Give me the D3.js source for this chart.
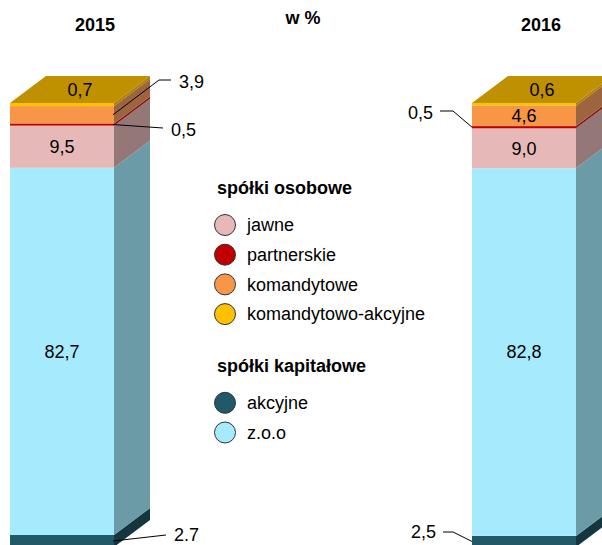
<!DOCTYPE html>
<html lang="pl">
<head>
<meta charset="UTF-8">
<title>Spółki 2015-2016</title>
<script src="https://d3js.org/d3.v7.min.js"></script>
<style>
    body { margin: 0; background: #fff; }
    text { font-family: "Liberation Sans", Arial, sans-serif; fill: #000; }
</style>
</head>
<body>
<script>
    // data, bottom segment first
    years = ["2015", "2016"]
    series = ["akcyjne", "z.o.o", "jawne", "partnerskie", "komandytowe", "komandytowo-akcyjne"]
    values2015 = [2.7, 82.7, 9.5, 0.5, 3.9, 0.7]
    values2016 = [2.5, 82.8, 9.0, 0.5, 4.6, 0.6]
    labels2015 = ["2.7", "82,7", "9,5", "0,5", "3,9", "0,7"]
    labels2016 = ["2,5", "82,8", "9,0", "0,5", "4,6", "0,6"]

    legendGroups = [
        {title: "spółki osobowe", items: ["jawne", "partnerskie", "komandytowe", "komandytowo-akcyjne"]},
        {title: "spółki kapitałowe", items: ["akcyjne", "z.o.o"]}
    ]

    colors = {
        "akcyjne": "#215968",
        "z.o.o": "#a6ebfd",
        "jawne": "#e6b9b8",
        "partnerskie": "#c00000",
        "komandytowe": "#f79646",
        "komandytowo-akcyjne": "#ffc000"
    }
    sideColors = {
        "akcyjne": "#14363f",
        "z.o.o": "#6a9ba6",
        "jawne": "#947878",
        "partnerskie": "#8a1010",
        "komandytowe": "#9c6540",
        "komandytowo-akcyjne": "#b08000"
    }
    topColor = "#bf9000"

    w = 602
    h = 545
    depth = {dx: 36, dy: -27}

    svg = d3.select("body").append("svg")
        .attr("width", w)
        .attr("height", h)

    x = d3.scaleBand()
        .domain(years)
        .range([10, 576])
        .paddingInner(358 / 462)

    y = d3.scaleLinear()
        .domain([0, 100])
        .range([547, 103])

    function stack(values) {
        let acc = 0
        return values.map((v, i) => {
            const s = {key: series[i], v: v, y0: acc, y1: acc + v}
            acc += v
            return s
        })
    }

    // where each label goes: in = on front, top = on top face, right/left = callout
    placement = {
        "2015": ["right", "in", "in", "right", "right", "top"],
        "2016": ["left", "in", "in", "left", "in", "top"]
    }
    // callout elbows (relative to bar edge): [elbow dx, elbow y, end dx, text dy]
    callouts = {
        "2015": {0: [53, 535, 53, 0], 3: [50, 128, 50, 2], 4: [46, 80, 58, 2]},
        "2016": {0: [-19, 532, -29, 0], 3: [-19, 111, -32, 2]}
    }
    // year titles sit a little off the bar centres in the original
    titleShift = {"2015": 33, "2016": 17}

    function drawBar(year, values, labels) {
        const data = stack(values)
        const x0 = x(year), bw = x.bandwidth(), x1 = x0 + bw
        const g = svg.append("g").attr("class", "bar-" + year)

        // front faces
        g.selectAll("rect.front")
            .data(data)
            .join("rect")
            .attr("class", "front")
            .attr("x", x0)
            .attr("y", d => y(d.y1))
            .attr("width", bw)
            .attr("height", d => y(d.y0) - y(d.y1))
            .attr("fill", d => colors[d.key])

        // side faces
        g.selectAll("path.side")
            .data(data)
            .join("path")
            .attr("class", "side")
            .attr("d", d => {
                const t = y(d.y1), b = y(d.y0)
                return "M" + x1 + "," + b + "L" + x1 + "," + t +
                    "L" + (x1 + depth.dx) + "," + (t + depth.dy) +
                    "L" + (x1 + depth.dx) + "," + (b + depth.dy) + "Z"
            })
            .attr("fill", d => sideColors[d.key])

        // top face
        const top = y(100)
        g.append("path")
            .attr("d", "M" + x0 + "," + top + "L" + x1 + "," + top +
                "L" + (x1 + depth.dx) + "," + (top + depth.dy) +
                "L" + (x0 + depth.dx) + "," + (top + depth.dy) + "Z")
            .attr("fill", topColor)

        // labels
        data.forEach((d, i) => {
            const mode = placement[year][i]
            const mid = (y(d.y0) + y(d.y1)) / 2
            if (mode === "in") {
                g.append("text")
                    .attr("x", x0 + bw / 2)
                    .attr("y", mid)
                    .attr("dy", "0.35em")
                    .attr("text-anchor", "middle")
                    .style("font-size", "18px")
                    .text(labels[i])
            } else if (mode === "top") {
                g.append("text")
                    .attr("x", x0 + bw / 2 + depth.dx / 2)
                    .attr("y", top + depth.dy / 2)
                    .attr("dy", "0.35em")
                    .attr("text-anchor", "middle")
                    .style("font-size", "18px")
                    .text(labels[i])
            } else {
                const c = callouts[year][i]
                const ax = mode === "right" ? x1 - 1 : x0
                const ex = ax + c[0], ey = c[1], endX = ax + c[2]
                g.append("path")
                    .attr("d", "M" + ax + "," + mid + "L" + ex + "," + ey + "L" + endX + "," + ey)
                    .attr("fill", "none")
                    .attr("stroke", "#000")
                    .attr("stroke-width", 1)
                g.append("text")
                    .attr("x", mode === "right" ? endX + 8 : endX - 7)
                    .attr("y", ey + c[3])
                    .attr("dy", "0.35em")
                    .attr("text-anchor", mode === "right" ? "start" : "end")
                    .style("font-size", "18px")
                    .text(labels[i])
            }
        })

        // year title
        svg.append("text")
            .attr("x", x0 + bw / 2 + titleShift[year])
            .attr("y", 25)
            .attr("dy", "0.35em")
            .attr("text-anchor", "middle")
            .style("font-size", "18px")
            .style("font-weight", "bold")
            .text(year)
    }

    drawBar("2015", values2015, labels2015)
    drawBar("2016", values2016, labels2016)

    svg.append("text")
        .attr("x", 303)
        .attr("y", 18)
        .attr("dy", "0.35em")
        .attr("text-anchor", "middle")
        .style("font-size", "18px")
        .style("font-weight", "bold")
        .text("w %")

    // legend
    legend = svg.append("g").attr("transform", "translate(217,0)")
    ly = 188
    legendGroups.forEach((grp, gi) => {
        if (gi > 0) ly += 22
        legend.append("text")
            .attr("x", 0)
            .attr("y", ly)
            .attr("dy", "0.35em")
            .style("font-size", "18px")
            .style("font-weight", "bold")
            .text(grp.title)
        ly += 37
        grp.items.forEach(item => {
            legend.append("circle")
                .attr("cx", 8)
                .attr("cy", ly)
                .attr("r", 10.5)
                .attr("fill", colors[item])
                .attr("stroke", "#333")
                .attr("stroke-width", 1)
            legend.append("text")
                .attr("x", 30)
                .attr("y", ly)
                .attr("dy", "0.35em")
                .style("font-size", "18px")
                .text(item)
            ly += 29.7
        })
    })
</script>
</body>
</html>
